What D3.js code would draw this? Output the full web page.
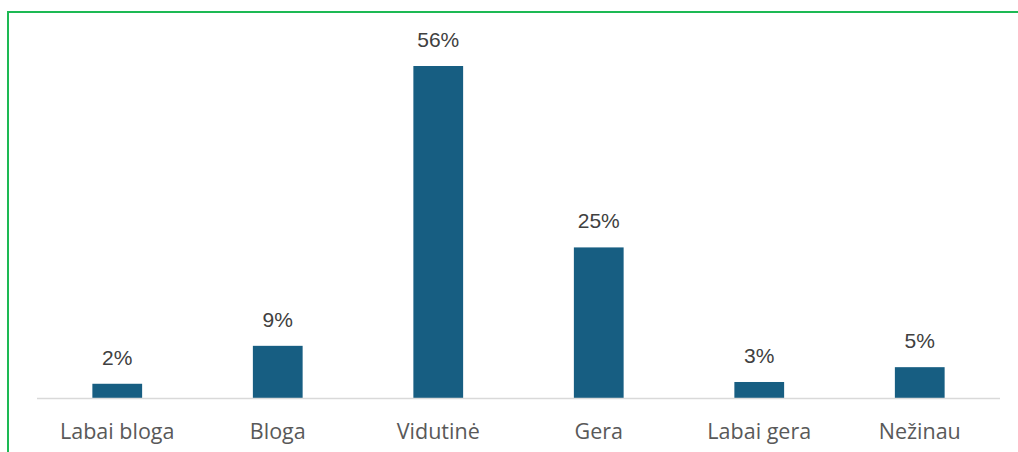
<!DOCTYPE html>
<html>
<head>
<meta charset="utf-8">
<script src="https://cdn.jsdelivr.net/npm/d3@7"></script>
<style>
  html, body { margin: 0; padding: 0; background: #fff; }
  svg { display: block; }
</style>
</head>
<body>
<svg id="chart"></svg>
<script>
// categories and values (percent)
const categories = ["Labai bloga", "Bloga", "Vidutinė", "Gera", "Labai gera", "Nežinau"];
const values = [2.4, 8.8, 56, 25.4, 2.7, 5.2];

const width = 1018, height = 452;
const margin = { left: 37, right: 18, top: 0, bottom: 54 };
const baseline = 398;

const svg = d3.select("#chart")
    .attr("width", width)
    .attr("height", height);

// green frame (only top and left visible)
svg.append("path")
    .attr("d", "M8," + height + " V12 H" + width)
    .attr("fill", "none")
    .attr("stroke", "#1db954")
    .attr("stroke-width", 2);

const x = d3.scaleBand()
    .domain(categories)
    .range([margin.left, width - margin.right])
    .paddingInner(0.69)
    .paddingOuter(0.345);

const y = d3.scaleLinear()
    .domain([0, 56])
    .range([baseline, 66]);

svg.selectAll(".bar")
    .data(values)
    .enter()
    .append("rect")
    .attr("class", "bar")
    .attr("x", function(d, i) { return x(categories[i]); })
    .attr("y", function(d) { return y(d); })
    .attr("width", x.bandwidth())
    .attr("height", function(d) { return baseline - y(d); })
    .attr("fill", "#175e82");

// axis line
svg.append("line")
    .attr("x1", margin.left)
    .attr("x2", width - margin.right)
    .attr("y1", baseline + 0.5)
    .attr("y2", baseline + 0.5)
    .attr("stroke", "#d9d9d9")
    .attr("stroke-width", 1.5);

// value labels
svg.selectAll(".val")
    .data(values)
    .enter()
    .append("text")
    .attr("class", "val")
    .attr("x", function(d, i) { return x(categories[i]) + x.bandwidth() / 2; })
    .attr("y", function(d) { return y(d) - 19; })
    .attr("text-anchor", "middle")
    .attr("font-family", "Liberation Sans, Arial, sans-serif")
    .attr("font-size", 21)
    .attr("fill", "#404040")
    .text(function(d) { return Math.round(d) + "%"; });

// category labels
svg.selectAll(".cat")
    .data(categories)
    .enter()
    .append("text")
    .attr("class", "cat")
    .attr("x", function(d) { return x(d) + x.bandwidth() / 2; })
    .attr("y", 439)
    .attr("text-anchor", "middle")
    .attr("font-family", "Open Sans, sans-serif")
    .attr("font-size", 21.5)
    .attr("fill", "#595959")
    .text(function(d) { return d; });
</script>
</body>
</html>
